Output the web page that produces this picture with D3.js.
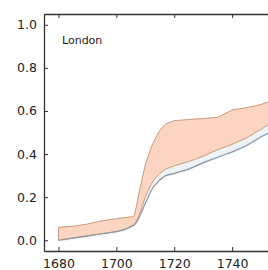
<!DOCTYPE html>
<html>
<head>
<meta charset="utf-8">
<script src="https://cdn.jsdelivr.net/npm/d3@7"></script>
<style>
    body { margin: 0; background: #fff; }
    text { font-family: "DejaVu Sans", sans-serif; fill: #222; }
</style>
</head>
<body>
<script>
"use strict";

const years = [1680, 1685, 1690, 1695, 1700, 1703, 1706, 1707, 1708, 1709, 1710,
               1711, 1712, 1713, 1715, 1717, 1720, 1725, 1730, 1735, 1738, 1740,
               1745, 1750, 1753];
// upper edge of the orange band
const bandHigh = [0.06, 0.065, 0.075, 0.09, 0.10, 0.105, 0.11, 0.16, 0.23, 0.29, 0.35,
                  0.39, 0.43, 0.46, 0.51, 0.54, 0.555, 0.56, 0.565, 0.57, 0.59, 0.605,
                  0.615, 0.63, 0.645];
// lower edge of the orange band
const bandLow = [0.0, 0.01, 0.02, 0.03, 0.04, 0.05, 0.07, 0.09, 0.12, 0.16, 0.20,
                 0.23, 0.26, 0.28, 0.31, 0.33, 0.345, 0.365, 0.39, 0.42, 0.435, 0.445,
                 0.475, 0.515, 0.54];
// blue reference line
const blueLine = [0.0, 0.01, 0.02, 0.03, 0.04, 0.05, 0.07, 0.083, 0.11, 0.14, 0.17,
                  0.20, 0.23, 0.25, 0.28, 0.30, 0.31, 0.33, 0.36, 0.385, 0.40, 0.41,
                  0.44, 0.48, 0.50];
const xTicks = [1680, 1700, 1720, 1740];
const yTicks = [0.0, 0.2, 0.4, 0.6, 0.8, 1.0];

const width = 268, height = 270;
const margin = { top: 14, left: 44, bottom: 251, right: 290 };

const data = years.map((y, i) => ({
    year: y, hi: bandHigh[i], lo: bandLow[i], blue: blueLine[i]
}));

const x = d3.scaleLinear().domain([1675, 1760]).range([margin.left, margin.right]);
const y = d3.scaleLinear().domain([-0.05, 1.05]).range([margin.bottom, margin.top]);

const svg = d3.select("body").append("svg")
              .attr("width", width)
              .attr("height", height);

// faint halo around the blue line
svg.append("path")
   .datum(data)
   .attr("fill", "#eef3f7")
   .attr("d", d3.area()
                .x(d => x(d.year))
                .y0(d => y(d.blue - 0.008))
                .y1(d => y(d.lo)));

svg.append("path")
   .datum(data)
   .attr("fill", "#fbd5c1")
   .attr("stroke", "#c99c7c")
   .attr("stroke-width", 1)
   .attr("d", d3.area()
                .x(d => x(d.year))
                .y0(d => y(d.lo))
                .y1(d => y(d.hi)));

svg.append("path")
   .datum(data)
   .attr("fill", "none")
   .attr("stroke", "#8a97a5")
   .attr("stroke-width", 1.2)
   .attr("d", d3.line()
                .x(d => x(d.year))
                .y(d => y(d.blue)));

// axes, classic style: ticks inward on every side
const bottomAxis = svg.append("g")
                      .attr("transform", `translate(0, ${margin.bottom})`)
                      .call(d3.axisBottom(x).tickValues(xTicks).tickFormat(d3.format("d"))
                              .tickSizeInner(-4).tickSizeOuter(0).tickPadding(8));
const topAxis = svg.append("g")
                   .attr("transform", `translate(0, ${margin.top})`)
                   .call(d3.axisTop(x).tickValues(xTicks).tickFormat("")
                           .tickSizeInner(-4).tickSizeOuter(0));
const leftAxis = svg.append("g")
                    .attr("transform", `translate(${margin.left}, 0)`)
                    .call(d3.axisLeft(y).tickValues(yTicks).tickFormat(d3.format(".1f"))
                            .tickSizeInner(-4).tickSizeOuter(0).tickPadding(7));

[bottomAxis, topAxis, leftAxis].forEach(g => {
    g.select(".domain").attr("stroke", "#333").attr("stroke-width", 1.3);
    g.selectAll(".tick line").attr("stroke", "#333");
    g.selectAll("text")
     .style("font-family", "'DejaVu Sans', sans-serif")
     .style("font-size", "12.5px")
     .attr("fill", "#222");
});

svg.append("text")
   .attr("x", 62)
   .attr("y", 44)
   .style("font-size", "11px")
   .text("London");
</script>
</body>
</html>
